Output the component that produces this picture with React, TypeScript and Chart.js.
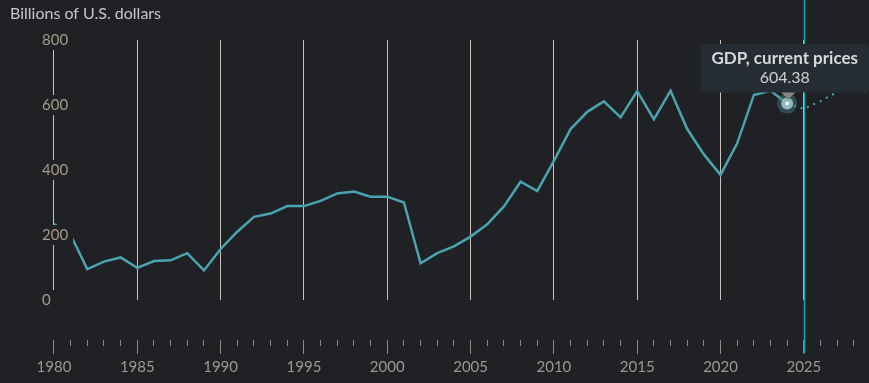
import React, { useEffect, useRef } from 'react';
import { Chart, registerables } from 'chart.js';

Chart.register(...registerables);

// ---- data ----
const years = [
  1980, 1981, 1982, 1983, 1984, 1985, 1986, 1987, 1988, 1989,
  1990, 1991, 1992, 1993, 1994, 1995, 1996, 1997, 1998, 1999,
  2000, 2001, 2002, 2003, 2004, 2005, 2006, 2007, 2008, 2009,
  2010, 2011, 2012, 2013, 2014, 2015, 2016, 2017, 2018, 2019,
  2020, 2021, 2022, 2023, 2024,
];
const gdp = [
  234, 200, 95, 118, 131, 99, 120, 122, 144, 91,
  157, 210, 256, 266, 289, 289, 305, 328, 334, 318,
  318, 300, 113, 144, 165, 195, 233, 288, 364, 335,
  428, 526, 579, 611, 562, 643, 556, 644, 526, 448,
  385, 482, 631, 644, 604.38,
];
const forecastYears = [2024, 2025, 2026, 2027, 2028];
const forecast = [604.38, 588, 612, 640, 668];
const yTicks = [0, 200, 400, 600, 800];
const titleText = 'Billions of U.S. dollars';
const seriesLabel = 'GDP, current prices';
const currentYear = 2025;
const xMin = 1979.161;
const xMax = 2028.834;

// ---- styles ----
const BG = '#202124';
const LINE = '#4aa3b0';
const GRID = '#c9c5bd';
const TICK = '#8f8b84';
const XLABEL = '#9c9890';
const YLABEL = '#a39a8a';
const CYAN = '#14a3ad';
const FONT = 'Lato';

export default function App() {
  const ref = useRef<HTMLCanvasElement | null>(null);

  useEffect(() => {
    if (!ref.current) return;

    const overlay = {
      id: 'overlay',
      afterDatasetsDraw(chart: any) {
        const x = Math.round(chart.scales.x.getPixelForValue(currentYear)) + 0.5;
        const bottom = chart.scales.xMajor.top + 13;
        const ctx = chart.ctx;
        ctx.save();
        ctx.strokeStyle = CYAN;
        ctx.lineWidth = 1.5;
        ctx.beginPath();
        ctx.moveTo(x, 0);
        ctx.lineTo(x, bottom);
        ctx.stroke();
        ctx.restore();
      },
      afterTooltipDraw(chart: any) {
        const t = chart.tooltip;
        if (!t || !t.opacity) return;
        const ctx = chart.ctx;
        const by = t.y + t.height;
        ctx.save();
        ctx.fillStyle = '#8a857b';
        ctx.beginPath();
        ctx.moveTo(t.caretX - 7, by);
        ctx.lineTo(t.caretX + 7, by);
        ctx.lineTo(t.caretX, by + 7);
        ctx.closePath();
        ctx.fill();
        ctx.restore();
      },
    };

    const chart = new Chart(ref.current, {
      type: 'line',
      data: {
        datasets: [
          {
            label: seriesLabel,
            data: years.map((y, i) => ({ x: y, y: gdp[i] })),
            borderColor: LINE,
            borderWidth: 2.5,
            pointRadius: 0,
            pointHoverRadius: 6,
            pointHoverBorderWidth: 8,
            pointHoverBackgroundColor: '#e6f6f8',
            pointHoverBorderColor: 'rgba(65,118,132,0.5)',
            tension: 0,
          },
          {
            label: 'forecast',
            data: forecastYears.map((y, i) => ({ x: y, y: forecast[i] })),
            borderColor: LINE,
            borderWidth: 2,
            borderDash: [2, 5],
            pointRadius: 0,
            pointHoverRadius: 0,
            tension: 0,
          },
        ],
      },
      options: {
        animation: false,
        responsive: false,
        events: [],
        layout: { padding: { left: 10, right: 0, top: 0, bottom: 0 } },
        plugins: {
          legend: { display: false },
          title: {
            display: true,
            text: titleText,
            align: 'start',
            color: '#c6c8ca',
            font: { family: FONT, size: 16, weight: 'normal' },
            padding: { top: 4, bottom: 16.8 },
          },
          tooltip: {
            enabled: true,
            filter: (item: any) => item.datasetIndex === 0,
            xAlign: 'center',
            yAlign: 'bottom',
            backgroundColor: '#262c33',
            titleColor: '#d8d8d8',
            bodyColor: '#d0d0d0',
            titleFont: { family: FONT, size: 17, weight: 'bold' },
            bodyFont: { family: FONT, size: 16 },
            titleAlign: 'center',
            bodyAlign: 'center',
            titleMarginBottom: 0,
            displayColors: false,
            padding: { top: 4, bottom: 5, left: 11, right: 11 },
            cornerRadius: 4,
            caretSize: 7,
            caretPadding: 4,
            callbacks: {
              title: (items: any[]) => items[0].dataset.label,
              label: (item: any) => item.parsed.y.toFixed(2),
            },
          },
        },
        scales: {
          x: {
            type: 'linear',
            position: 'bottom',
            weight: 0,
            min: xMin,
            max: xMax,
            ticks: { display: false, stepSize: 5, includeBounds: false },
            grid: { color: GRID, lineWidth: 1, drawTicks: false },
            border: { display: false },
            afterFit: (s: any) => { s.height = 40; },
          },
          xMinor: {
            type: 'linear',
            position: 'bottom',
            weight: 1,
            min: xMin,
            max: xMax,
            ticks: { display: false, stepSize: 1, includeBounds: false },
            grid: { drawOnChartArea: false, tickLength: 6, tickColor: TICK, tickWidth: 1 },
            border: { display: false },
            afterFit: (s: any) => { s.height = 0; },
          },
          xMajor: {
            type: 'linear',
            position: 'bottom',
            weight: 2,
            min: xMin,
            max: xMax,
            ticks: {
              stepSize: 5,
              includeBounds: false,
              autoSkip: false,
              maxRotation: 0,
              color: XLABEL,
              padding: 4,
              font: { family: FONT, size: 15 },
              callback: (v: any) => String(v),
            },
            grid: { drawOnChartArea: false, tickLength: 14, tickColor: TICK, tickWidth: 1 },
            border: { display: false },
            afterFit: (s: any) => { s.height = 43; },
          },
          y: {
            type: 'linear',
            position: 'left',
            min: 0,
            max: 800,
            afterBuildTicks: (s: any) => { s.ticks = yTicks.map((v) => ({ value: v })); },
            ticks: {
              mirror: true,
              padding: 2,
              z: 1,
              color: YLABEL,
              font: { family: FONT, size: 15 },
              showLabelBackdrop: true,
              backdropColor: BG,
              backdropPadding: { top: 1, bottom: 1, left: 2, right: 5 },
              callback: (v: any) => String(v),
            },
            grid: { display: false },
            border: { display: false },
            afterFit: (s: any) => { s.width = 30; },
          },
        },
      },
      plugins: [overlay],
    } as any);

    const active = [{ datasetIndex: 0, index: years.length - 1 }];
    chart.setActiveElements(active);
    chart.tooltip?.setActiveElements(active, { x: 0, y: 0 });
    chart.update();

    return () => chart.destroy();
  }, []);

  return (
    <div style={{ position: 'fixed', left: 0, top: 0, width: 869, height: 383, background: BG }}>
      <canvas ref={ref} width={869} height={383} style={{ display: 'block', width: 869, height: 383 }} />
    </div>
  );
}
